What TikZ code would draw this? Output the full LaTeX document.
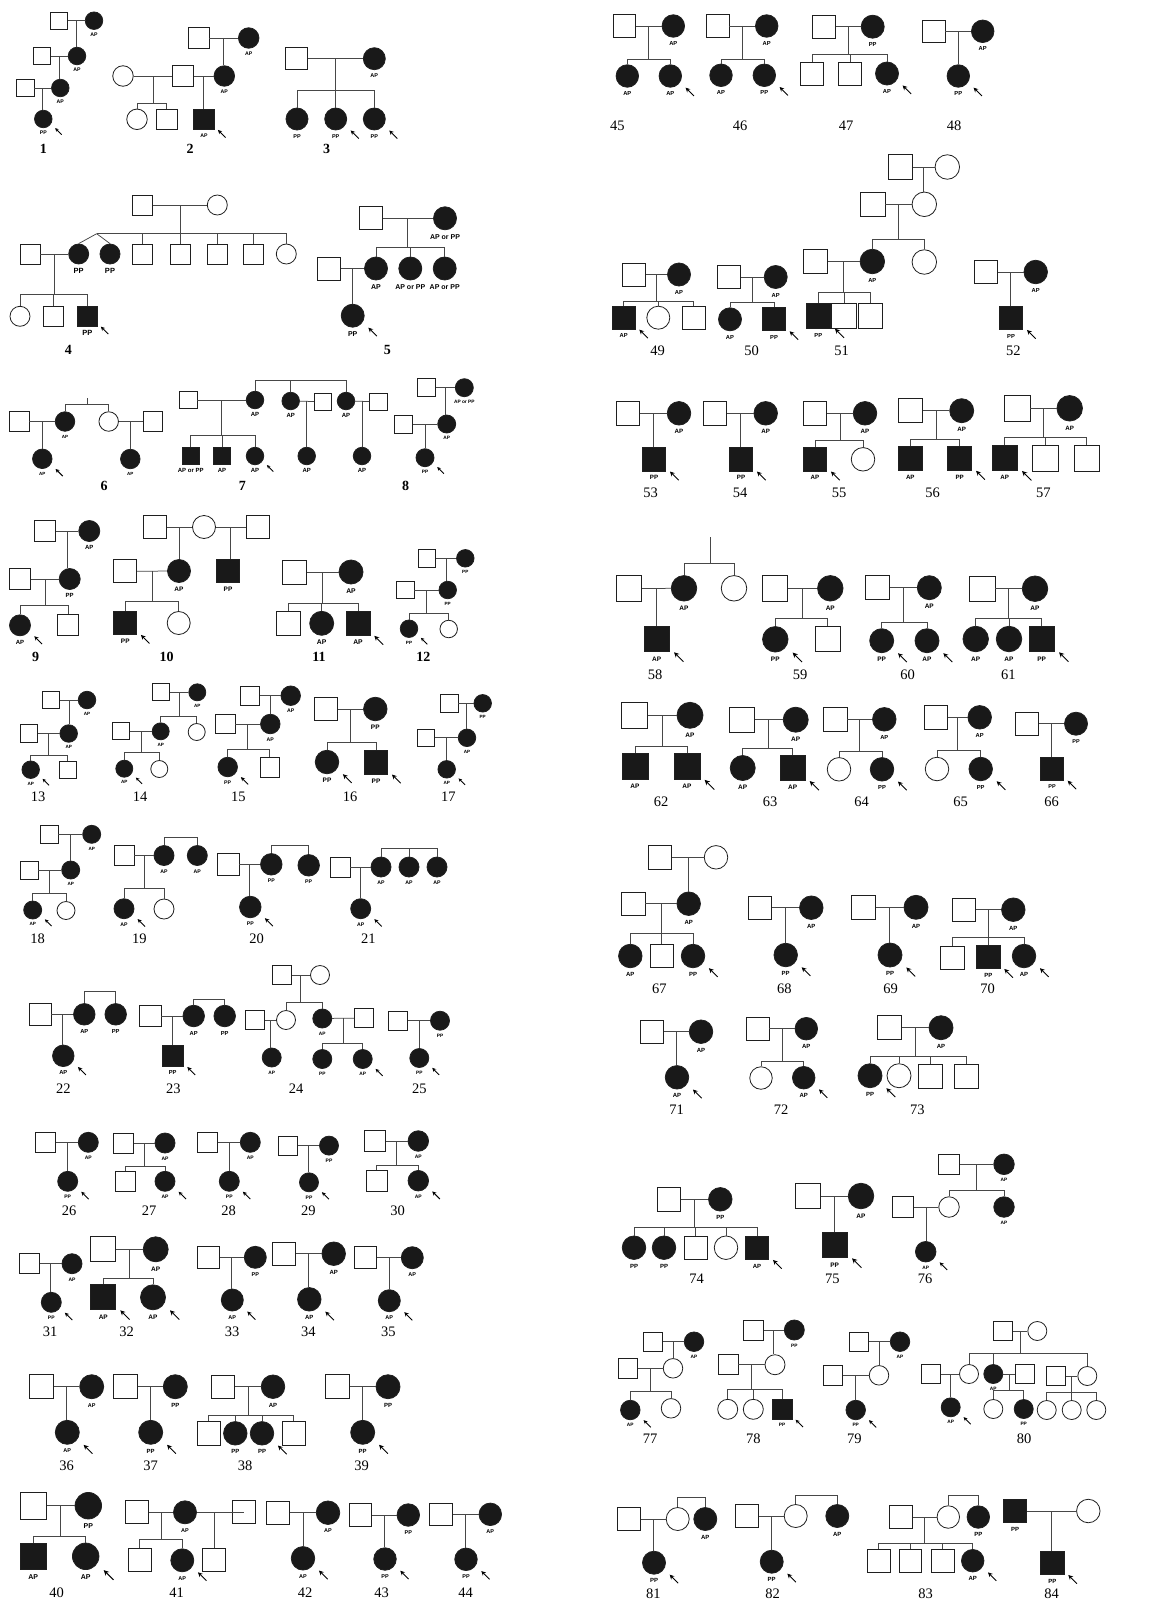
\documentclass[tikz,border=0pt]{standalone}
\usepackage{fontspec}
\setmainfont{Liberation Serif}
\setsansfont{Liberation Sans}
\usetikzlibrary{calc,arrows.meta}
\def\sz{22}\def\lsz{5}
\newcommand\setsz[2]{\def\sz{#1}\def\lsz{#2}}
\newcommand\lblfont{\sffamily\bfseries\fontsize{\lsz}{\lsz}\selectfont}
\tikzset{
  sym/.style={draw=black!88,line width=0.8pt,inner sep=0pt,minimum size=\sz pt},
  mo/.style={sym,rectangle,fill=white},
  mf/.style={sym,rectangle,fill=black!90},
  fo/.style={sym,circle,fill=white},
  ff/.style={sym,circle,fill=black!90},
  ln/.style={line width=0.75pt,draw=black!72},
  lbl/.style={font=\lblfont,inner sep=0pt,anchor=north},
  num/.style={font=\fontsize{14.5}{15}\selectfont,inner sep=0pt},
  bnum/.style={font=\fontsize{14}{15}\selectfont\bfseries,inner sep=0pt},
}
\newcommand\sqO[3]{\node[mo] (#1) at (#2,#3) {};}
\newcommand\sqF[3]{\node[mf] (#1) at (#2,#3) {};}
\newcommand\ciO[3]{\node[fo] (#1) at (#2,#3) {};}
\newcommand\ciF[3]{\node[ff] (#1) at (#2,#3) {};}
\newcommand\lab[2]{\node[lbl] (#1L) at ($(#1.south)+(0,0.17*\sz)$) {#2};}
\newcommand\pro[1]{\pgfmathsetmacro\ahl{0.2*\sz}\draw[line width=0.9pt,draw=black,-{Stealth[length=\ahl pt,width=\ahl pt]}] ($(#1.center)+(1.05*\sz,0.89*\sz)$) -- ($(#1.center)+(0.68*\sz,0.52*\sz)$);}
\newcommand\mate[3]{\draw[ln] (#1) -- (#2); \coordinate (#3) at ($(#1)!0.5!(#2)$);}
\newcommand\kid[2]{\draw[ln] (#1) -- (#1 |- #2.north);}
\newcommand\kids[3]{\draw[ln] (#1) -- (#1 |- 0,#2); \foreach \k in {#3}{\draw[ln] (#1 |- 0,#2) -| (\k.north);}}
\newcommand\sibbar[3]{\draw[ln] (#2.north) |- (#3.north |- 0,#1) -- (#3.north);}
\newcommand\sibmid[2]{\draw[ln] (#2.north) -- (#2.north |- 0,#1);}
\newcommand\nm[3]{\node[num] (n#1) at (#2,#3) {#1};}
\newcommand\bnm[3]{\node[bnum] (n#1) at (#2,#3) {#1};}
\begin{document}
\begin{tikzpicture}[x=1pt,y=-1pt]
\fill[white] (0,0) rectangle (1169,1603);
\useasboundingbox (0,0) rectangle (1169,1603);
% 1
\setsz{17.5}{5.2}
\sqO{p1a}{58.7}{20.7}\ciF{p1b}{94}{20.7}\lab{p1b}{AP}
\sqO{p1c}{42}{56}\ciF{p1d}{77}{56}\lab{p1d}{AP}
\sqO{p1e}{25.3}{88}\ciF{p1f}{60.3}{88}\lab{p1f}{AP}
\ciF{p1g}{43.3}{119}\lab{p1g}{PP}\pro{p1g}
\mate{p1a}{p1b}{p1m1}\kid{p1m1}{p1d}
\mate{p1c}{p1d}{p1m2}\kid{p1m2}{p1f}
\mate{p1e}{p1f}{p1m3}\kid{p1m3}{p1g}
\bnm{1}{43.3}{149}
% 2
\setsz{20.5}{5.2}
\ciO{p2a}{123}{76}\sqO{p2b}{183}{76}\ciF{p2c}{224.3}{76}\lab{p2c}{AP}
\sqO{p2d}{198.7}{38}\ciF{p2e}{248.7}{38}\lab{p2e}{AP}
\ciO{p2f}{137}{119.3}\sqO{p2g}{166.7}{119.3}\sqF{p2h}{204}{119.3}\lab{p2h}{AP}\pro{p2h}
\mate{p2d}{p2e}{p2m1}\kid{p2m1}{p2c}
\mate{p2a}{p2b}{p2m2}\kids{p2m2}{103.3}{p2f,p2g}
\mate{p2b}{p2c}{p2m3}\kid{p2m3}{p2h}
\bnm{2}{190}{149}
% 3
\setsz{22}{5.5}
\sqO{p3a}{296.7}{58.7}\ciF{p3b}{374.3}{58.7}\lab{p3b}{AP}
\ciF{p3c}{297}{119}\lab{p3c}{PP}\ciF{p3d}{335.7}{119}\lab{p3d}{PP}\pro{p3d}\ciF{p3e}{374.3}{119}\lab{p3e}{PP}\pro{p3e}
\mate{p3a}{p3b}{p3m}\kids{p3m}{90.3}{p3c,p3d,p3e}
\bnm{3}{326.7}{149}
% 4
\setsz{20}{7.5}
\sqO{p4a}{142.7}{205}\ciO{p4b}{217.3}{205}
\ciF{p4c}{78.7}{254}\lab{p4c}{PP}\ciF{p4d}{110}{254}\lab{p4d}{PP}
\sqO{p4e}{142.7}{254}\sqO{p4f}{180}{254}\sqO{p4g}{217.3}{254}\sqO{p4h}{253.3}{254}\ciO{p4i}{286.3}{254}
\sqO{p4j}{30}{254}
\ciO{p4k}{20}{316.3}\sqO{p4l}{53}{316.3}\sqF{p4n}{87.3}{316.3}\lab{p4n}{PP}\pro{p4n}
\mate{p4a}{p4b}{p4m1}\kids{p4m1}{233.7}{p4e,p4f,p4g,p4h,p4i}
\coordinate (p4t) at (96.7,233.7);
\draw[ln] (p4m1 |- p4t) -- (p4t); \draw[ln] (p4t) -- (p4c.north); \draw[ln] (p4t) -- (p4d.north);
\mate{p4j}{p4c}{p4m2}\kids{p4m2}{294.3}{p4k,p4l,p4n}
\bnm{4}{68.3}{350}
% 5
\setsz{23}{7}
\sqO{p5a}{370.7}{218.3}\ciF{p5b}{445}{218.3}\lab{p5b}{AP or PP}
\ciF{p5c}{376}{268.5}\lab{p5c}{AP}\ciF{p5d}{410.3}{268.5}\lab{p5d}{AP or PP}\ciF{p5e}{444.7}{268.5}\lab{p5e}{AP or PP}
\sqO{p5f}{329.3}{268.5}
\ciF{p5g}{352.7}{315.7}\lab{p5g}{PP}\pro{p5g}
\mate{p5a}{p5b}{p5m1}\kids{p5m1}{247.3}{p5c,p5d,p5e}
\mate{p5f}{p5c}{p5m2}\kid{p5m2}{p5g}
\bnm{5}{387.3}{350}
% 6
\setsz{19.5}{4.5}
\sqO{p6a}{19.3}{421.5}\ciF{p6b}{65}{421.5}\lab{p6b}{AP}
\ciF{p6c}{42.3}{458.8}\lab{p6c}{AP}\pro{p6c}
\ciO{p6d}{108.7}{421.5}\sqO{p6e}{152.7}{421.5}
\ciF{p6f}{130.3}{459}\lab{p6f}{AP}
\mate{p6a}{p6b}{p6m1}\kid{p6m1}{p6c}
\mate{p6d}{p6e}{p6m2}\kid{p6m2}{p6f}
\sibbar{404}{p6b}{p6d}
\coordinate (p6s) at (87.3,398.3); \draw[ln] (p6s) -- (p6s |- 0,404);
\bnm{6}{104}{486}
% 7
\setsz{17.5}{6}
\ciF{p7a}{255}{400}\lab{p7a}{AP}\ciF{p7b}{290.7}{401}\lab{p7b}{AP}\ciF{p7c}{346}{401}\lab{p7c}{AP}
\sibbar{380.7}{p7a}{p7c}\sibmid{380.7}{p7b}
\sqO{p7d}{188.3}{400}
\sqF{p7e}{190.7}{456}\lab{p7e}{AP or PP}\sqF{p7f}{222}{456}\lab{p7f}{AP}\ciF{p7g}{255}{456}\lab{p7g}{AP}\pro{p7g}
\mate{p7d}{p7a}{p7m1}\kids{p7m1}{435.7}{p7e,p7f,p7g}
\sqO{p7h}{323}{401.7}\ciF{p7i}{306.7}{456}\lab{p7i}{AP}
\mate{p7b}{p7h}{p7m2}\kid{p7m2}{p7i}
\sqO{p7j}{378.3}{401.7}\ciF{p7k}{362}{456}\lab{p7k}{AP}
\mate{p7c}{p7j}{p7m3}\kid{p7m3}{p7k}
\bnm{7}{242.3}{486}
% 8
\setsz{18}{4.8}
\sqO{p8a}{426.7}{387.7}\ciF{p8b}{464.3}{387.7}\lab{p8b}{AP or PP}
\ciF{p8c}{446.7}{424}\lab{p8c}{AP}
\sqO{p8d}{403.3}{424}
\ciF{p8e}{425}{457.7}\lab{p8e}{PP}\pro{p8e}
\mate{p8a}{p8b}{p8m1}\kid{p8m1}{p8c}
\mate{p8d}{p8c}{p8m2}\kid{p8m2}{p8e}
\bnm{8}{405.7}{486}
% 9
\setsz{21}{6}
\sqO{p9a}{45}{531}\ciF{p9b}{89.3}{531}\lab{p9b}{AP}
\ciF{p9c}{69.7}{579}\lab{p9c}{PP}
\sqO{p9d}{20.3}{579}
\ciF{p9e}{20}{625.3}\lab{p9e}{AP}\pro{p9e}\sqO{p9f}{68.3}{625.3}
\mate{p9a}{p9b}{p9m1}\kid{p9m1}{p9c}
\mate{p9d}{p9c}{p9m2}\kids{p9m2}{605.7}{p9e,p9f}
\bnm{9}{35.7}{657.3}
% 10
\setsz{23}{6.5}
\sqO{p10a}{155}{527}\ciO{p10b}{204}{527}\sqO{p10c}{257.7}{527}
\ciF{p10d}{179}{571}\lab{p10d}{AP}\sqF{p10e}{228}{571.3}\lab{p10e}{PP}
\sqO{p10f}{125.3}{571.3}
\sqF{p10g}{125.3}{623}\lab{p10g}{PP}\pro{p10g}\ciO{p10h}{178.7}{623}
\mate{p10a}{p10b}{p10m1}\kid{p10m1}{p10d}
\mate{p10b}{p10c}{p10m2}\kid{p10m2}{p10e}
\mate{p10f}{p10d}{p10m3}\kids{p10m3}{601}{p10g,p10h}
\bnm{10}{166.7}{657.3}
% 11
\setsz{24}{6.8}
\sqO{p11a}{294.3}{572}\ciF{p11b}{351}{572}\lab{p11b}{AP}
\sqO{p11c}{288.7}{623.3}\ciF{p11d}{321.7}{623.3}\lab{p11d}{AP}\sqF{p11e}{358}{623.3}\lab{p11e}{AP}\pro{p11e}
\mate{p11a}{p11b}{p11m}\kids{p11m}{603}{p11c,p11d,p11e}
\bnm{11}{319}{657.3}
% 12
\setsz{17.5}{4.6}
\sqO{p12a}{427}{558.3}\ciF{p12b}{465.3}{558.3}\lab{p12b}{PP}
\ciF{p12c}{447.7}{590}\lab{p12c}{PP}
\sqO{p12d}{405.3}{590}
\ciF{p12e}{409}{628.7}\lab{p12e}{PP}\pro{p12e}\ciO{p12f}{448.7}{629}
\mate{p12a}{p12b}{p12m1}\kid{p12m1}{p12c}
\mate{p12d}{p12c}{p12m2}\kids{p12m2}{613}{p12e,p12f}
\bnm{12}{423.3}{657.3}
% 13
\setsz{17.5}{4.6}
\sqO{p13a}{51}{700}\ciF{p13b}{87}{700}\lab{p13b}{AP}
\ciF{p13c}{68.7}{733.5}\lab{p13c}{AP}
\sqO{p13d}{29}{733.5}
\ciF{p13e}{30.7}{769.7}\lab{p13e}{AP}\pro{p13e}\sqO{p13f}{67.7}{769.7}
\mate{p13a}{p13b}{p13m1}\kid{p13m1}{p13c}
\mate{p13d}{p13c}{p13m2}\kids{p13m2}{755.7}{p13e,p13f}
\nm{13}{38}{797}
% 14
\setsz{17}{4.6}
\sqO{p14a}{161}{692.3}\ciF{p14b}{197.3}{692.3}\lab{p14b}{AP}
\ciF{p14c}{160.7}{731.3}\lab{p14c}{AP}\ciO{p14d}{196.7}{732}
\sqO{p14e}{121.3}{731.3}
\ciF{p14f}{124.3}{768.7}\lab{p14f}{AP}\pro{p14f}\ciO{p14g}{159.3}{769}
\mate{p14a}{p14b}{p14m1}\kids{p14m1}{716.7}{p14c,p14d}
\mate{p14e}{p14c}{p14m2}\kids{p14m2}{752.3}{p14f,p14g}
\nm{14}{140}{797}
% 15
\setsz{19.5}{5.2}
\sqO{p15a}{249.7}{695.7}\ciF{p15b}{290.7}{695.7}\lab{p15b}{AP}
\ciF{p15c}{270.3}{724}\lab{p15c}{AP}
\sqO{p15d}{225.3}{724}
\ciF{p15e}{227.7}{767}\lab{p15e}{PP}\pro{p15e}\sqO{p15f}{269.7}{767.3}
\mate{p15a}{p15b}{p15m1}\kid{p15m1}{p15c}
\mate{p15d}{p15c}{p15m2}\kids{p15m2}{749}{p15e,p15f}
\nm{15}{238.3}{797}
% 16
\setsz{23.5}{6.5}
\sqO{p16a}{326}{709}\ciF{p16b}{375.3}{709}\lab{p16b}{PP}
\ciF{p16c}{327}{762}\lab{p16c}{PP}\pro{p16c}\sqF{p16d}{376}{762.3}\lab{p16d}{PP}\pro{p16d}
\mate{p16a}{p16b}{p16m}\kids{p16m}{742.3}{p16c,p16d}
\nm{16}{350}{797}
% 17
\setsz{17.5}{4.6}
\sqO{p17a}{449.3}{703.3}\ciF{p17b}{482.7}{703.3}\lab{p17b}{PP}
\ciF{p17c}{467}{737.8}\lab{p17c}{AP}
\sqO{p17d}{425.7}{737.8}
\ciF{p17e}{446.7}{769.3}\lab{p17e}{AP}\pro{p17e}
\mate{p17a}{p17b}{p17m1}\kid{p17m1}{p17c}
\mate{p17d}{p17c}{p17m2}\kid{p17m2}{p17e}
\nm{17}{448.3}{797}
% 18
\setsz{18}{4.6}
\sqO{p18a}{49}{834.3}\ciF{p18b}{91.7}{834.3}\lab{p18b}{AP}
\ciF{p18c}{70.7}{870}\lab{p18c}{AP}
\sqO{p18d}{29}{870}
\ciF{p18e}{32.7}{910}\lab{p18e}{AP}\pro{p18e}\ciO{p18f}{66}{910.5}
\mate{p18a}{p18b}{p18m1}\kid{p18m1}{p18c}
\mate{p18d}{p18c}{p18m2}\kids{p18m2}{893.3}{p18e,p18f}
\nm{18}{37.7}{938.3}
% 19
\setsz{20}{5.2}
\sqO{p19a}{124}{855.5}\ciF{p19b}{164}{855.5}\lab{p19b}{AP}\ciF{p19c}{197.3}{855.5}\lab{p19c}{AP}
\sibbar{837.3}{p19b}{p19c}
\ciF{p19d}{124}{908.7}\lab{p19d}{AP}\pro{p19d}\ciO{p19e}{164}{909}
\mate{p19a}{p19b}{p19m}\kids{p19m}{888.3}{p19d,p19e}
\nm{19}{139.3}{938.3}
% 20
\setsz{21.5}{5.2}
\sqO{p20a}{228.3}{864.3}\ciF{p20b}{271.3}{864.3}\lab{p20b}{PP}\ciF{p20c}{308.7}{865.3}\lab{p20c}{PP}
\sibbar{845}{p20b}{p20c}
\ciF{p20d}{250.3}{907}\lab{p20d}{PP}\pro{p20d}
\mate{p20a}{p20b}{p20m}\kid{p20m}{p20d}
\nm{20}{256.7}{938.3}
% 21
\setsz{20}{5.2}
\sqO{p21a}{340}{867}\ciF{p21b}{381}{867}\lab{p21b}{AP}\ciF{p21c}{409}{867}\lab{p21c}{AP}\ciF{p21d}{437}{867}\lab{p21d}{AP}
\sibbar{848.3}{p21b}{p21d}\sibmid{848.3}{p21c}
\ciF{p21e}{360.7}{908.7}\lab{p21e}{AP}\pro{p21e}
\mate{p21a}{p21b}{p21m}\kid{p21m}{p21e}
\nm{21}{368.3}{938.3}
% 22
\setsz{21.5}{5.8}
\sqO{p22a}{40.3}{1014.3}\ciF{p22b}{84.3}{1014.3}\lab{p22b}{AP}\ciF{p22c}{115.7}{1014.3}\lab{p22c}{PP}
\sibbar{991.7}{p22b}{p22c}
\ciF{p22d}{63.3}{1055.8}\lab{p22d}{AP}\pro{p22d}
\mate{p22a}{p22b}{p22m}\kid{p22m}{p22d}
\nm{22}{63.3}{1088.3}
% 23
\sqO{p23a}{150.3}{1016}\ciF{p23b}{193.7}{1016}\lab{p23b}{AP}\ciF{p23c}{224.7}{1016}\lab{p23c}{PP}
\sibbar{999}{p23b}{p23c}
\sqF{p23d}{172.7}{1055.8}\lab{p23d}{PP}\pro{p23d}
\mate{p23a}{p23b}{p23m}\kid{p23m}{p23d}
\nm{23}{173.3}{1088.3}
% 24
\setsz{19}{4.8}
\sqO{p24a}{281.7}{975}\ciO{p24b}{320}{975}
\ciO{p24c}{286}{1020}\ciF{p24d}{322.3}{1018.5}\lab{p24d}{AP}
\sqO{p24e}{255}{1020}
\ciF{p24f}{271.7}{1057.5}\lab{p24f}{AP}
\sqO{p24g}{364}{1018}
\ciF{p24h}{322.3}{1059}\lab{p24h}{PP}\ciF{p24i}{362.7}{1059}\lab{p24i}{AP}\pro{p24i}
\mate{p24a}{p24b}{p24m1}\kids{p24m1}{1002.3}{p24c,p24d}
\mate{p24e}{p24c}{p24m2}\kid{p24m2}{p24f}
\mate{p24d}{p24g}{p24m3}\kids{p24m3}{1043.3}{p24h,p24i}
\nm{24}{296}{1088.3}
% 25
\sqO{p25a}{398.3}{1020.7}\ciF{p25b}{440}{1020.7}\lab{p25b}{PP}
\ciF{p25c}{419.3}{1058}\lab{p25c}{PP}\pro{p25c}
\mate{p25a}{p25b}{p25m}\kid{p25m}{p25c}
\nm{25}{419.3}{1088.3}
% 26
\setsz{20}{5}
\sqO{p26a}{45.7}{1142.3}\ciF{p26b}{88.3}{1142.3}\lab{p26b}{AP}
\ciF{p26c}{67.7}{1181.3}\lab{p26c}{PP}\pro{p26c}
\mate{p26a}{p26b}{p26m}\kid{p26m}{p26c}
\nm{26}{69}{1210.7}
% 27
\sqO{p27a}{123.3}{1143}\ciF{p27b}{165}{1143}\lab{p27b}{AP}
\sqO{p27c}{125.3}{1181.3}\ciF{p27d}{165}{1181.3}\lab{p27d}{AP}\pro{p27d}
\mate{p27a}{p27b}{p27m}\kids{p27m}{1166}{p27c,p27d}
\nm{27}{149}{1210.7}
% 28
\sqO{p28a}{207.7}{1142.3}\ciF{p28b}{250.3}{1142.3}\lab{p28b}{AP}
\ciF{p28c}{229.3}{1181.3}\lab{p28c}{PP}\pro{p28c}
\mate{p28a}{p28b}{p28m}\kid{p28m}{p28c}
\nm{28}{228.7}{1210.7}
% 29
\setsz{19}{5}
\sqO{p29a}{288.3}{1145.6}\ciF{p29b}{329}{1145.6}\lab{p29b}{PP}
\ciF{p29c}{309}{1182.3}\lab{p29c}{PP}\pro{p29c}
\mate{p29a}{p29b}{p29m}\kid{p29m}{p29c}
\nm{29}{308.3}{1210.7}
% 30
\setsz{20.5}{5}
\sqO{p30a}{375}{1141}\ciF{p30b}{418.3}{1141}\lab{p30b}{AP}
\sqO{p30c}{376.7}{1180.7}\ciF{p30d}{418.3}{1180.7}\lab{p30d}{AP}\pro{p30d}
\mate{p30a}{p30b}{p30m}\kids{p30m}{1165.3}{p30c,p30d}
\nm{30}{397.7}{1210.7}
% 31
\setsz{20}{5}
\sqO{p31a}{29.7}{1263.7}\ciF{p31b}{72}{1263.7}\lab{p31b}{AP}
\ciF{p31c}{51.3}{1302.3}\lab{p31c}{PP}\pro{p31c}
\mate{p31a}{p31b}{p31m}\kid{p31m}{p31c}
\nm{31}{50}{1332}
% 32
\setsz{25}{6.5}
\sqO{p32a}{103.3}{1249.3}\ciF{p32b}{155.7}{1249.3}\lab{p32b}{AP}
\sqF{p32c}{103.3}{1297.3}\lab{p32c}{AP}\pro{p32c}\ciF{p32d}{153}{1297.3}\lab{p32d}{AP}\pro{p32d}
\mate{p32a}{p32b}{p32m}\kids{p32m}{1278.3}{p32c,p32d}
\nm{32}{126.7}{1332}
% 33
\setsz{22}{5.5}
\sqO{p33a}{208.3}{1257.3}\ciF{p33b}{255.3}{1257.3}\lab{p33b}{PP}
\ciF{p33c}{232.3}{1300}\lab{p33c}{AP}\pro{p33c}
\mate{p33a}{p33b}{p33m}\kid{p33m}{p33c}
\nm{33}{232}{1332}
% 34
\setsz{23.5}{6}
\sqO{p34a}{284}{1253.7}\ciF{p34b}{333.7}{1253.7}\lab{p34b}{AP}
\ciF{p34c}{309.3}{1299.3}\lab{p34c}{AP}\pro{p34c}
\mate{p34a}{p34b}{p34m}\kid{p34m}{p34c}
\nm{34}{308.3}{1332}
% 35
\setsz{22}{5.5}
\sqO{p35a}{365.7}{1257.7}\ciF{p35b}{412.3}{1257.7}\lab{p35b}{AP}
\ciF{p35c}{389.3}{1300.7}\lab{p35c}{AP}\pro{p35c}
\mate{p35a}{p35b}{p35m}\kid{p35m}{p35c}
\nm{35}{388.3}{1332}
% 36
\setsz{24}{5.5}
\sqO{p36a}{41.7}{1386.7}\ciF{p36b}{91.7}{1386.7}\lab{p36b}{AP}
\ciF{p36c}{67.3}{1432.3}\lab{p36c}{AP}\pro{p36c}
\mate{p36a}{p36b}{p36m}\kid{p36m}{p36c}
\nm{36}{66.7}{1466}
% 37
\setsz{24}{6}
\sqO{p37a}{125.7}{1386.7}\ciF{p37b}{175.3}{1386.7}\lab{p37b}{PP}
\ciF{p37c}{150.7}{1432.3}\lab{p37c}{PP}\pro{p37c}
\mate{p37a}{p37b}{p37m}\kid{p37m}{p37c}
\nm{37}{150.7}{1466}
% 38
\setsz{23.5}{6}
\sqO{p38a}{223}{1386.7}\ciF{p38b}{273}{1386.7}\lab{p38b}{AP}
\sqO{p38c}{208.7}{1433.3}\ciF{p38d}{235.3}{1433.3}\lab{p38d}{PP}\ciF{p38e}{262}{1433.3}\lab{p38e}{PP}\pro{p38e}\sqO{p38f}{293.7}{1433.3}
\mate{p38a}{p38b}{p38m}\kids{p38m}{1415.7}{p38c,p38d,p38e,p38f}
\nm{38}{245}{1466}
% 39
\setsz{24}{6}
\sqO{p39a}{337.3}{1386.7}\ciF{p39b}{388}{1386.7}\lab{p39b}{PP}
\ciF{p39c}{362.7}{1432.3}\lab{p39c}{PP}\pro{p39c}
\mate{p39a}{p39b}{p39m}\kid{p39m}{p39c}
\nm{39}{361.7}{1466}
% 40
\setsz{26.5}{7}
\sqO{p40a}{33.3}{1505.7}\ciF{p40b}{88.3}{1505.7}\lab{p40b}{PP}
\sqF{p40c}{33.3}{1556.3}\lab{p40c}{AP}\ciF{p40d}{85.7}{1556.3}\lab{p40d}{AP}\pro{p40d}
\mate{p40a}{p40b}{p40m}\kids{p40m}{1536.7}{p40c,p40d}
\nm{40}{56.7}{1592.7}
% 41
\setsz{23}{5.5}
\sqO{p41a}{137}{1512.3}\ciF{p41b}{185}{1512.3}\lab{p41b}{AP}\sqO{p41c}{244.3}{1512.3}
\sqO{p41d}{139.7}{1560.3}\ciF{p41e}{182.3}{1560.3}\lab{p41e}{AP}\pro{p41e}\sqO{p41f}{213.7}{1560.3}
\mate{p41a}{p41b}{p41m1}\kids{p41m1}{1539.3}{p41d,p41e}
\draw[ln] (p41b) -- (p41c.center); \coordinate (p41m2) at ($(p41b)!0.5!(p41c)$); \kid{p41m2}{p41f}
\nm{41}{176.7}{1592.7}
% 42
\setsz{23.5}{5.5}
\sqO{p42a}{278}{1512.7}\ciF{p42b}{328}{1512.7}\lab{p42b}{AP}
\ciF{p42c}{303}{1558.3}\lab{p42c}{AP}\pro{p42c}
\mate{p42a}{p42b}{p42m}\kid{p42m}{p42c}
\nm{42}{305}{1592.7}
% 43
\setsz{22.5}{5.5}
\sqO{p43a}{360.3}{1515}\ciF{p43b}{408.3}{1515}\lab{p43b}{PP}
\ciF{p43c}{385}{1559}\lab{p43c}{PP}\pro{p43c}
\mate{p43a}{p43b}{p43m}\kid{p43m}{p43c}
\nm{43}{381.7}{1592.7}
% 44
\sqO{p44a}{441}{1514.3}\ciF{p44b}{490.3}{1514.3}\lab{p44b}{AP}
\ciF{p44c}{466}{1559.3}\lab{p44c}{PP}\pro{p44c}
\mate{p44a}{p44b}{p44m}\kid{p44m}{p44c}
\nm{44}{465.7}{1592.7}
% 45
\setsz{22.5}{5.8}
\sqO{p45a}{624.3}{26}\ciF{p45b}{673.3}{26}\lab{p45b}{AP}
\ciF{p45c}{627.3}{76}\lab{p45c}{AP}\ciF{p45d}{670.3}{76}\lab{p45d}{AP}\pro{p45d}
\mate{p45a}{p45b}{p45m}\kids{p45m}{59.3}{p45c,p45d}
\nm{45}{617.3}{126}
% 46
\sqO{p46a}{717.7}{26}\ciF{p46b}{766.7}{26}\lab{p46b}{AP}
\ciF{p46c}{721}{75.3}\lab{p46c}{AP}\ciF{p46d}{764.3}{75.3}\lab{p46d}{PP}\pro{p46d}
\mate{p46a}{p46b}{p46m}\kids{p46m}{59}{p46c,p46d}
\nm{46}{740}{126}
% 47
\setsz{23}{5.8}
\sqO{p47a}{824}{26.7}\ciF{p47b}{872.7}{26.7}\lab{p47b}{PP}
\sqO{p47c}{812}{73.5}\sqO{p47d}{850.3}{73.5}\ciF{p47e}{887}{73.5}\lab{p47e}{AP}\pro{p47e}
\mate{p47a}{p47b}{p47m}\kids{p47m}{54.3}{p47c,p47d,p47e}
\nm{47}{846}{126}
% 48
\setsz{22.5}{5.8}
\sqO{p48a}{933.7}{31.3}\ciF{p48b}{982.7}{31.3}\lab{p48b}{AP}
\ciF{p48c}{958.3}{76}\lab{p48c}{PP}\pro{p48c}
\mate{p48a}{p48b}{p48m}\kid{p48m}{p48c}
\nm{48}{954}{126}
% 49
\setsz{23}{5.8}
\sqO{p49a}{633.7}{274.5}\ciF{p49b}{679}{274.5}\lab{p49b}{AP}
\sqF{p49c}{623.7}{317.7}\lab{p49c}{AP}\pro{p49c}\ciO{p49d}{658.3}{317.7}\sqO{p49e}{693.7}{318}
\mate{p49a}{p49b}{p49m}\kids{p49m}{301.7}{p49c,p49d,p49e}
\nm{49}{657.7}{350.7}
% 50
\sqO{p50a}{729.3}{277}\ciF{p50b}{775.7}{277}\lab{p50b}{AP}
\ciF{p50c}{730}{319.3}\lab{p50c}{AP}\sqF{p50d}{774}{319.3}\lab{p50d}{PP}\pro{p50d}
\mate{p50a}{p50b}{p50m}\kids{p50m}{302.3}{p50c,p50d}
\nm{50}{751.7}{350.7}
% 51
\setsz{24.5}{5.8}
\sqO{p51a}{900.3}{167}\ciO{p51b}{947.3}{167}
\ciO{p51c}{924.3}{204.3}\sqO{p51d}{872.7}{204.3}
\ciF{p51e}{872.3}{261.5}\lab{p51e}{AP}\ciO{p51f}{924.3}{262}
\sqO{p51g}{815.3}{261.5}
\sqF{p51h}{818.3}{316}\lab{p51h}{PP}\pro{p51h}\sqO{p51i}{844}{316}\sqO{p51j}{870.3}{316}
\mate{p51a}{p51b}{p51m1}\kid{p51m1}{p51c}
\mate{p51d}{p51c}{p51m2}\kids{p51m2}{239.3}{p51e,p51f}
\mate{p51g}{p51e}{p51m3}\kids{p51m3}{292.7}{p51h,p51i,p51j}
\nm{51}{841.7}{350.7}
% 52
\setsz{23.5}{5.8}
\sqO{p52a}{986}{272}\ciF{p52b}{1035.7}{272}\lab{p52b}{AP}
\sqF{p52c}{1011}{317.7}\lab{p52c}{PP}\pro{p52c}
\mate{p52a}{p52b}{p52m}\kid{p52m}{p52c}
\nm{52}{1013.3}{350.7}
% 53
\setsz{23.5}{6.2}
\sqO{p53a}{628}{413.3}\ciF{p53b}{679}{413.3}\lab{p53b}{AP}
\sqF{p53c}{654}{459.3}\lab{p53c}{PP}\pro{p53c}
\mate{p53a}{p53b}{p53m}\kid{p53m}{p53c}
\nm{53}{650.7}{493}
% 54
\sqO{p54a}{715}{413.3}\ciF{p54b}{765.7}{413.3}\lab{p54b}{AP}
\sqF{p54c}{741}{459.3}\lab{p54c}{PP}\pro{p54c}
\mate{p54a}{p54b}{p54m}\kid{p54m}{p54c}
\nm{54}{740}{493}
% 55
\sqO{p55a}{815}{413.3}\ciF{p55b}{865}{413.3}\lab{p55b}{AP}
\sqF{p55c}{815}{459.3}\lab{p55c}{AP}\pro{p55c}\ciO{p55d}{863}{459.3}
\mate{p55a}{p55b}{p55m}\kids{p55m}{440.7}{p55c,p55d}
\nm{55}{839}{493}
% 56
\setsz{24}{6.2}
\sqO{p56a}{910.3}{410.7}\ciF{p56b}{961.7}{410.7}\lab{p56b}{AP}
\sqF{p56c}{910.3}{458.3}\lab{p56c}{AP}\sqF{p56d}{959.7}{458.3}\lab{p56d}{PP}\pro{p56d}
\mate{p56a}{p56b}{p56m}\kids{p56m}{439}{p56c,p56d}
\nm{56}{932.7}{493}
% 57
\setsz{25.5}{6.2}
\sqO{p57a}{1017.3}{408.3}\ciF{p57b}{1069.7}{408.3}\lab{p57b}{AP}
\sqF{p57c}{1004.7}{457.7}\lab{p57c}{AP}\pro{p57c}\sqO{p57d}{1045.3}{458.3}\sqO{p57e}{1086.7}{458.3}
\mate{p57a}{p57b}{p57m}\kids{p57m}{437.7}{p57c,p57d,p57e}
\nm{57}{1043.3}{493}
% 58
\setsz{25.5}{6.5}
\ciF{p58a}{684}{588.3}\lab{p58a}{AP}\ciO{p58b}{734}{588.3}
\sibbar{563.3}{p58a}{p58b}
\coordinate (p58s) at (710,537.3); \draw[ln] (p58s) -- (p58s |- 0,563.3);
\sqO{p58c}{629}{588.5}
\sqF{p58d}{656.7}{639}\lab{p58d}{AP}\pro{p58d}
\mate{p58c}{p58a}{p58m}\kid{p58m}{p58d}
\nm{58}{655}{675}
% 59
\sqO{p59a}{775}{588.3}\ciF{p59b}{830.3}{588.3}\lab{p59b}{AP}
\ciF{p59c}{775.3}{639.3}\lab{p59c}{PP}\pro{p59c}\sqO{p59d}{827.7}{639}
\mate{p59a}{p59b}{p59m}\kids{p59m}{618.3}{p59c,p59d}
\nm{59}{800}{675}
% 60
\setsz{24}{6.5}
\sqO{p60a}{877.7}{587.7}\ciF{p60b}{929.3}{587.7}\lab{p60b}{AP}
\ciF{p60c}{881.7}{640.7}\lab{p60c}{PP}\pro{p60c}\ciF{p60d}{927}{640.7}\lab{p60d}{AP}\pro{p60d}
\mate{p60a}{p60b}{p60m}\kids{p60m}{622.3}{p60c,p60d}
\nm{60}{907.7}{675}
% 61
\setsz{25.5}{6.5}
\sqO{p61a}{982.3}{588.7}\ciF{p61b}{1035}{588.7}\lab{p61b}{AP}
\ciF{p61c}{975.7}{639}\lab{p61c}{AP}\ciF{p61d}{1009}{639}\lab{p61d}{AP}\sqF{p61e}{1041.7}{639}\lab{p61e}{PP}\pro{p61e}
\mate{p61a}{p61b}{p61m}\kids{p61m}{618.3}{p61c,p61d,p61e}
\nm{61}{1008.3}{675}
% 62
\setsz{26}{6.5}
\sqO{p62a}{634.3}{715.3}\ciF{p62b}{690}{715.3}\lab{p62b}{AP}
\sqF{p62c}{635}{766.3}\lab{p62c}{AP}\sqF{p62d}{687}{766.3}\lab{p62d}{AP}\pro{p62d}
\mate{p62a}{p62b}{p62m}\kids{p62m}{746}{p62c,p62d}
\nm{62}{661}{801.7}
% 63
\setsz{25}{6.5}
\sqO{p63a}{742}{719.7}\ciF{p63b}{795.7}{719.7}\lab{p63b}{AP}
\ciF{p63c}{742.7}{768}\lab{p63c}{AP}\sqF{p63d}{792.7}{768}\lab{p63d}{AP}\pro{p63d}
\mate{p63a}{p63b}{p63m}\kids{p63m}{748.3}{p63c,p63d}
\nm{63}{770}{801.7}
% 64
\setsz{23.5}{5.8}
\sqO{p64a}{835.3}{719.3}\ciF{p64b}{884.3}{719.3}\lab{p64b}{AP}
\ciO{p64c}{839}{769.3}\ciF{p64d}{882}{769.3}\lab{p64d}{PP}\pro{p64d}
\mate{p64a}{p64b}{p64m}\kids{p64m}{751.7}{p64c,p64d}
\nm{64}{861.7}{801.7}
% 65
\sqO{p65a}{936}{717.3}\ciF{p65b}{979.7}{717.3}\lab{p65b}{AP}
\ciO{p65c}{937}{769}\ciF{p65d}{980.7}{769}\lab{p65d}{PP}\pro{p65d}
\mate{p65a}{p65b}{p65m}\kids{p65m}{750.7}{p65c,p65d}
\nm{65}{960.7}{801.7}
% 66
\setsz{23}{5.5}
\sqO{p66a}{1027.3}{723.7}\ciF{p66b}{1076}{723.7}\lab{p66b}{PP}
\sqF{p66c}{1052}{768.7}\lab{p66c}{PP}\pro{p66c}
\mate{p66a}{p66b}{p66m}\kid{p66m}{p66c}
\nm{66}{1051.7}{801.7}
% 67
\setsz{23.5}{6}
\sqO{p67a}{660}{857.3}\ciO{p67b}{716}{857.3}
\ciF{p67c}{688.7}{903.7}\lab{p67c}{AP}\sqO{p67d}{633.3}{903.7}
\ciF{p67e}{630.3}{956}\lab{p67e}{AP}\sqO{p67f}{661.7}{956}\ciF{p67g}{693}{956}\lab{p67g}{PP}\pro{p67g}
\mate{p67a}{p67b}{p67m1}\kid{p67m1}{p67c}
\mate{p67d}{p67c}{p67m2}\kids{p67m2}{933.3}{p67e,p67f,p67g}
\nm{67}{659.3}{989}
% 68
\sqO{p68a}{760}{907.7}\ciF{p68b}{811.3}{907.7}\lab{p68b}{AP}
\ciF{p68c}{785.7}{955}\lab{p68c}{PP}\pro{p68c}
\mate{p68a}{p68b}{p68m}\kid{p68m}{p68c}
\nm{68}{784.3}{989}
% 69
\setsz{24}{6}
\sqO{p69a}{863.7}{907.3}\ciF{p69b}{916}{907.3}\lab{p69b}{AP}
\ciF{p69c}{890}{955}\lab{p69c}{PP}\pro{p69c}
\mate{p69a}{p69b}{p69m}\kid{p69m}{p69c}
\nm{69}{890.7}{989}
% 70
\setsz{23.5}{6}
\sqO{p70a}{963.7}{909.7}\ciF{p70b}{1013.3}{909.7}\lab{p70b}{AP}
\sqO{p70c}{952.3}{958}\sqF{p70d}{988.3}{956.7}\lab{p70d}{PP}\pro{p70d}\ciF{p70e}{1024}{956}\lab{p70e}{AP}\pro{p70e}
\mate{p70a}{p70b}{p70m}\kids{p70m}{937.7}{p70c,p70d,p70e}
\nm{70}{987.7}{989}
% 71
\sqO{p71a}{651.7}{1031.7}\ciF{p71b}{701}{1031.7}\lab{p71b}{AP}
\ciF{p71c}{677}{1077.3}\lab{p71c}{AP}\pro{p71c}
\mate{p71a}{p71b}{p71m}\kid{p71m}{p71c}
\nm{71}{676.7}{1110}
% 72
\setsz{22.5}{6}
\sqO{p72a}{757.7}{1028.7}\ciF{p72b}{806.3}{1028.7}\lab{p72b}{AP}
\ciO{p72c}{761}{1078}\ciF{p72d}{803.7}{1077.7}\lab{p72d}{AP}\pro{p72d}
\mate{p72a}{p72b}{p72m}\kids{p72m}{1061.5}{p72c,p72d}
\nm{72}{781}{1110}
% 73
\setsz{24}{6}
\sqO{p73a}{889.3}{1027.7}\ciF{p73b}{941}{1027.7}\lab{p73b}{AP}
\ciF{p73c}{870}{1075.7}\lab{p73c}{PP}\pro{p73c}\ciO{p73d}{899}{1075.7}\sqO{p73e}{930.7}{1076}\sqO{p73f}{966.3}{1076}
\mate{p73a}{p73b}{p73m}\kids{p73m}{1056.7}{p73c,p73d,p73e,p73f}
\nm{73}{917.3}{1110}
% 74
\setsz{23.5}{6}
\sqO{p74a}{668.7}{1199.3}\ciF{p74b}{720.3}{1199.3}\lab{p74b}{PP}
\ciF{p74c}{634}{1247.7}\lab{p74c}{PP}\ciF{p74d}{664}{1247.7}\lab{p74d}{PP}\sqO{p74e}{695.7}{1247.7}\ciO{p74f}{726}{1247.7}\sqF{p74g}{757}{1247.7}\lab{p74g}{AP}\pro{p74g}
\mate{p74a}{p74b}{p74m}\kids{p74m}{1227.7}{p74c,p74d,p74e,p74f,p74g}
\nm{74}{696.7}{1279}
% 75
\setsz{25.5}{6.5}
\sqO{p75a}{807.7}{1196}\ciF{p75b}{861}{1196}\lab{p75b}{AP}
\sqF{p75c}{834.7}{1245}\lab{p75c}{PP}\pro{p75c}
\mate{p75a}{p75b}{p75m}\kid{p75m}{p75c}
\nm{75}{832.3}{1279}
% 76
\setsz{20.5}{4.8}
\sqO{p76a}{949}{1164.3}\ciF{p76b}{1004}{1164.3}\lab{p76b}{AP}
\ciO{p76c}{949}{1207}\ciF{p76d}{1004}{1207}\lab{p76d}{AP}
\sqO{p76e}{903}{1207}
\ciF{p76f}{925.7}{1251.7}\lab{p76f}{AP}\pro{p76f}
\mate{p76a}{p76b}{p76m1}\kids{p76m1}{1190.7}{p76c,p76d}
\mate{p76e}{p76c}{p76m2}\kid{p76m2}{p76f}
\nm{76}{925}{1279}
% 77
\setsz{19.5}{4.8}
\sqO{p77a}{653}{1341.7}\ciF{p77b}{694}{1341.7}\lab{p77b}{AP}
\ciO{p77c}{673}{1368.3}\sqO{p77d}{628}{1368.3}
\ciF{p77e}{630.3}{1410}\lab{p77e}{AP}\pro{p77e}\ciO{p77f}{671}{1408.3}
\mate{p77a}{p77b}{p77m1}\kid{p77m1}{p77c}
\mate{p77d}{p77c}{p77m2}\kids{p77m2}{1391.7}{p77e,p77f}
\nm{77}{650}{1438.3}
% 78
\setsz{20}{4.8}
\sqO{p78a}{753.3}{1330}\ciF{p78b}{794.3}{1330}\lab{p78b}{PP}
\ciO{p78c}{775}{1364.7}\sqO{p78d}{728}{1364.7}
\ciO{p78e}{727.7}{1409.3}\ciO{p78f}{753.3}{1409.3}\sqF{p78g}{782}{1409.3}\lab{p78g}{PP}\pro{p78g}
\mate{p78a}{p78b}{p78m1}\kid{p78m1}{p78c}
\mate{p78d}{p78c}{p78m2}\kids{p78m2}{1389.3}{p78e,p78f,p78g}
\nm{78}{753.3}{1438.3}
% 79
\setsz{19.5}{4.8}
\sqO{p79a}{859}{1341.7}\ciF{p79b}{900}{1341.7}\lab{p79b}{AP}
\ciO{p79c}{879}{1375.3}\sqO{p79d}{832.7}{1375.3}
\ciF{p79e}{855.7}{1410}\lab{p79e}{PP}\pro{p79e}
\mate{p79a}{p79b}{p79m1}\kid{p79m1}{p79c}
\mate{p79d}{p79c}{p79m2}\kid{p79m2}{p79e}
\nm{79}{854.3}{1438.3}
% 80
\setsz{19}{4.8}
\sqO{p80a}{1002.7}{1331}\ciO{p80b}{1037.3}{1331}
\ciO{p80c}{969}{1374}\ciF{p80d}{993.3}{1374}\lab{p80d}{AP}\sqO{p80e}{1024.7}{1374}\sqO{p80f}{1055.7}{1376}\ciO{p80g}{1087.3}{1376}
\sqO{p80h}{931.3}{1374}
\ciF{p80i}{950.7}{1407.3}\lab{p80i}{AP}\pro{p80i}
\ciO{p80j}{993.3}{1409}\ciF{p80k}{1023.7}{1409}\lab{p80k}{PP}
\ciO{p80l}{1046.7}{1410}\ciO{p80n}{1071.7}{1410}\ciO{p80o}{1096.3}{1410}
\mate{p80a}{p80b}{p80m1}\kids{p80m1}{1353.3}{p80c,p80d,p80g}
\mate{p80h}{p80c}{p80m2}\kid{p80m2}{p80i}
\mate{p80d}{p80e}{p80m3}\kids{p80m3}{1390.7}{p80j,p80k}
\mate{p80f}{p80g}{p80m4}\kids{p80m4}{1392.7}{p80l,p80n,p80o}
\nm{80}{1024}{1438.3}
% 81
\setsz{23}{6}
\sqO{p81a}{629.3}{1519}\ciO{p81b}{677.7}{1519}\ciF{p81c}{705.3}{1519}\lab{p81c}{AP}
\sibbar{1497.3}{p81b}{p81c}
\ciF{p81d}{654}{1562.7}\lab{p81d}{PP}\pro{p81d}
\mate{p81a}{p81b}{p81m}\kid{p81m}{p81d}
\nm{81}{653.3}{1594}
% 82
\sqO{p82a}{747}{1516}\ciO{p82b}{795.7}{1516}\ciF{p82c}{837.3}{1516}\lab{p82c}{AP}
\sibbar{1495}{p82b}{p82c}
\ciF{p82d}{771.7}{1561.7}\lab{p82d}{PP}\pro{p82d}
\mate{p82a}{p82b}{p82m}\kid{p82m}{p82d}
\nm{82}{772.7}{1594}
% 83
\setsz{22.5}{6}
\sqO{p83a}{901}{1517}\ciO{p83b}{948.3}{1517}\ciF{p83c}{978.3}{1517}\lab{p83c}{PP}
\sibbar{1495}{p83b}{p83c}
\sqO{p83d}{878.7}{1560.7}\sqO{p83e}{910.3}{1560.7}\sqO{p83f}{942.7}{1560.7}\ciF{p83g}{972.7}{1560.7}\lab{p83g}{AP}\pro{p83g}
\mate{p83a}{p83b}{p83m}\kids{p83m}{1543.3}{p83d,p83e,p83f,p83g}
\nm{83}{925.7}{1594}
% 84
\setsz{23.5}{6}
\sqF{p84a}{1015}{1511}\lab{p84a}{PP}\ciO{p84b}{1088.3}{1511}
\sqF{p84c}{1052.3}{1562.7}\lab{p84c}{PP}\pro{p84c}
\mate{p84a}{p84b}{p84m}\kid{p84m}{p84c}
\nm{84}{1051.7}{1594}
\end{tikzpicture}
\end{document}
